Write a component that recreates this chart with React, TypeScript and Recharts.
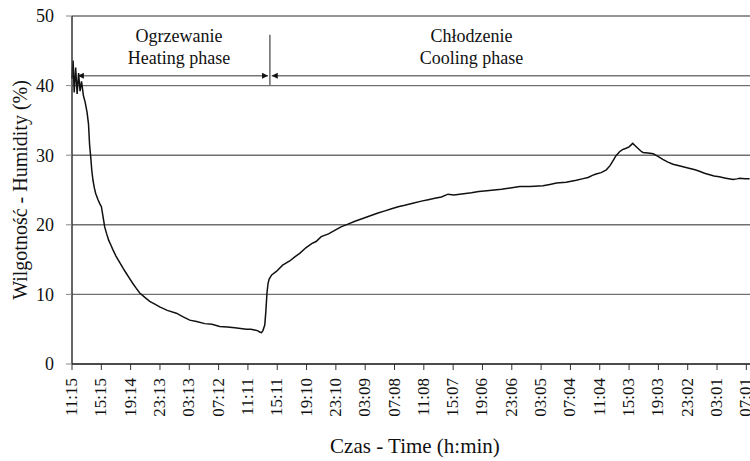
import React from "react";
import { LineChart, Line, XAxis, YAxis, CartesianGrid, ReferenceLine, ReferenceDot, Label } from "recharts";

const FONT = "Liberation Serif, Times New Roman, serif";

// elapsed time in hours from 11:15
const hours = [
  0, 0.15, 0.3, 0.5, 0.7, 0.9, 1.1, 1.3, 1.55, 1.8, 2.05, 2.25, 2.4, 2.55, 2.7, 2.86,
  3.05, 3.23, 3.55, 3.8, 4.01, 4.2, 4.46, 4.7, 5.0, 5.3, 5.59, 6.0, 6.5, 7.0, 7.42, 7.85, 8.28, 8.75, 9.24, 9.9,
  10.6, 11.3, 11.96, 13.0, 14.24, 15.1, 16.06, 17.0, 18.1, 19.1, 20.15, 21.2, 22.2, 23.0, 23.8, 24.4, 24.9, 25.3, 25.6, 25.85,
  26.05, 26.3, 26.45, 26.6, 26.75, 26.9, 27.24, 27.88, 28.74, 29.7, 30.4, 31.07, 31.9, 32.7, 33.3, 34.0, 35.0, 35.84, 36.7, 37.65,
  38.6, 39.66, 40.7, 41.75, 42.7, 43.6, 44.5, 45.4, 46.5, 47.67, 48.6, 49.5, 50.4, 51.3, 52.1, 52.9, 53.7, 54.5, 55.5, 56.6,
  57.6, 58.6, 59.8, 61.1, 62.5, 64.26, 65.2, 66.1, 67.4, 68.8, 69.6, 70.4, 71.0, 71.5, 72.2, 72.9, 73.4, 73.8, 74.2, 74.7,
  75.1, 75.6, 76.0, 76.5, 76.8, 77.2, 77.6, 77.9, 78.6, 79.3, 80.0, 80.6, 81.3, 82.0, 83.1, 84.3, 85.0, 85.6, 86.3, 87.0,
  87.6, 88.3, 89.2, 90.2, 90.7, 91.1, 91.8, 92.45,
];

const humidity = [
  41.0, 43.6, 39.0, 42.6, 38.8, 41.8, 39.2, 40.6, 38.6, 37.6, 36.2, 34.5, 31.5, 29.8, 27.8, 26.4,
  25.3, 24.5, 23.6, 23.0, 22.6, 21.4, 19.7, 18.8, 17.8, 17.1, 16.4, 15.5, 14.6, 13.7, 13.0, 12.3, 11.6, 10.9, 10.2, 9.6,
  9.0, 8.6, 8.2, 7.7, 7.3, 6.8, 6.3, 6.1, 5.8, 5.7, 5.4, 5.3, 5.2, 5.1, 5.0, 5.0, 4.9, 4.8, 4.6, 4.5,
  4.8, 5.6, 7.6, 10.2, 11.6, 12.2, 12.8, 13.3, 14.2, 14.8, 15.4, 15.9, 16.7, 17.3, 17.6, 18.3, 18.7, 19.2, 19.7, 20.1,
  20.5, 20.9, 21.3, 21.7, 22.0, 22.3, 22.6, 22.8, 23.1, 23.4, 23.6, 23.8, 24.0, 24.4, 24.3, 24.4, 24.5, 24.6, 24.8, 24.9,
  25.0, 25.1, 25.3, 25.5, 25.5, 25.6, 25.8, 26.0, 26.1, 26.4, 26.6, 26.8, 27.1, 27.3, 27.5, 27.9, 28.5, 29.2, 29.9, 30.5,
  30.8, 31.0, 31.2, 31.7, 31.4, 31.0, 30.6, 30.4, 30.3, 30.2, 29.8, 29.4, 29.0, 28.7, 28.4, 28.1, 27.9, 27.7, 27.4, 27.2,
  27.0, 26.9, 26.7, 26.5, 26.6, 26.7, 26.6, 26.6,
];

const tickHours = [0, 4, 8, 12, 16, 20, 24, 28, 32, 36, 40, 44, 48, 52, 56, 60, 64, 68, 72, 76, 80, 84, 88, 92];
const tickLabels = [
  "11:15", "15:15", "19:14", "23:13", "03:13", "07:12", "11:11", "15:11", "19:10", "23:10", "03:09", "07:08",
  "11:08", "15:07", "19:06", "23:06", "03:05", "07:04", "11:04", "15:03", "19:03", "23:02", "03:01", "07:01",
];
const yTicks = [0, 10, 20, 30, 40, 50];

// phase annotations (hours / humidity units)
const arrowLevel = 41.4;
const phaseSplit = 27;
const phases = [
  { pl: "Ogrzewanie", en: "Heating phase", from: 0.8, to: 26.75, mid: 14.6, headStart: true, headEnd: true },
  { pl: "Chłodzenie", en: "Cooling phase", from: 27.25, to: 92.5, mid: 54.5, headStart: true, headEnd: false },
];

const data = hours.map((t, i) => ({ t, h: humidity[i] }));

function TimeTick(props: any) {
  const { x, y, payload } = props;
  const label = tickLabels[tickHours.indexOf(payload.value)];
  return (
    <text
      transform={`translate(${x + 5},${y + 6}) rotate(-90)`}
      textAnchor="end"
      style={{ fontSize: 17, fontFamily: FONT }}
      fill="#111"
    >
      {label}
    </text>
  );
}

function arrowShape(headStart: boolean, headEnd: boolean) {
  return (p: any) => {
    const { x1, y1, x2 } = p;
    return (
      <g>
        <line x1={x1} y1={y1} x2={x2} y2={y1} stroke="#777" strokeWidth={1.5} />
        {headStart && <polygon points={`${x1},${y1} ${x1 + 6},${y1 - 3} ${x1 + 6},${y1 + 3}`} fill="#111" />}
        {headEnd && <polygon points={`${x2},${y1} ${x2 - 6},${y1 - 3} ${x2 - 6},${y1 + 3}`} fill="#111" />}
      </g>
    );
  };
}

function captionShape(top: string, bottom: string) {
  return (p: any) => (
    <text x={p.cx} y={p.cy} textAnchor="middle" style={{ fontSize: 18, fontFamily: FONT }} fill="#111">
      <tspan x={p.cx} dy={0}>{top}</tspan>
      <tspan x={p.cx} dy={22}>{bottom}</tspan>
    </text>
  );
}

export default function App() {
  return (
    <div
      style={{
        position: "absolute",
        left: 0,
        top: 0,
        width: 750,
        height: 461,
        overflow: "hidden",
        background: "#fff",
        fontFamily: FONT,
      }}
    >
      <LineChart width={750} height={461} data={data} margin={{ top: 16, right: 0, bottom: 0, left: 0 }}>
        <CartesianGrid vertical={false} stroke="#707070" strokeWidth={1.4} />
        <XAxis
          dataKey="t"
          type="number"
          domain={[0, 92.5]}
          ticks={tickHours}
          interval={0}
          height={97}
          tick={<TimeTick />}
          tickSize={6}
          axisLine={{ stroke: "#333", strokeWidth: 1.5 }}
          tickLine={{ stroke: "#333" }}
        >
          <Label
            content={() => (
              <text x={415} y={453} textAnchor="middle" style={{ fontSize: 21, fontFamily: FONT }} fill="#111">
                Czas - Time (h:min)
              </text>
            )}
          />
        </XAxis>
        <YAxis
          type="number"
          domain={[0, 50]}
          ticks={yTicks}
          width={72}
          tickSize={6}
          tickMargin={12}
          tick={{ fill: "#111", style: { fontSize: 18, fontFamily: FONT } }}
          axisLine={{ stroke: "#333", strokeWidth: 1.5 }}
          tickLine={{ stroke: "#888" }}
        >
          <Label
            content={() => (
              <text
                transform="translate(27,190) rotate(-90)"
                textAnchor="middle"
                style={{ fontSize: 20, fontFamily: FONT }}
                fill="#111"
              >
                Wilgotność - Humidity (%)
              </text>
            )}
          />
        </YAxis>
        {phases.map((ph) => (
          <ReferenceLine
            key={ph.en}
            segment={[{ x: ph.from, y: arrowLevel }, { x: ph.to, y: arrowLevel }]}
            shape={arrowShape(ph.headStart, ph.headEnd)}
          />
        ))}
        <ReferenceLine
          segment={[{ x: phaseSplit, y: 47.3 }, { x: phaseSplit, y: 40.1 }]}
          stroke="#444"
          strokeWidth={1.2}
        />
        {phases.map((ph) => (
          <ReferenceDot key={ph.pl} x={ph.mid} y={46.2} r={0} shape={captionShape(ph.pl, ph.en)} />
        ))}
        <Line
          type="linear"
          dataKey="h"
          stroke="#111"
          strokeWidth={1.5}
          dot={false}
          isAnimationActive={false}
        />
      </LineChart>
    </div>
  );
}
